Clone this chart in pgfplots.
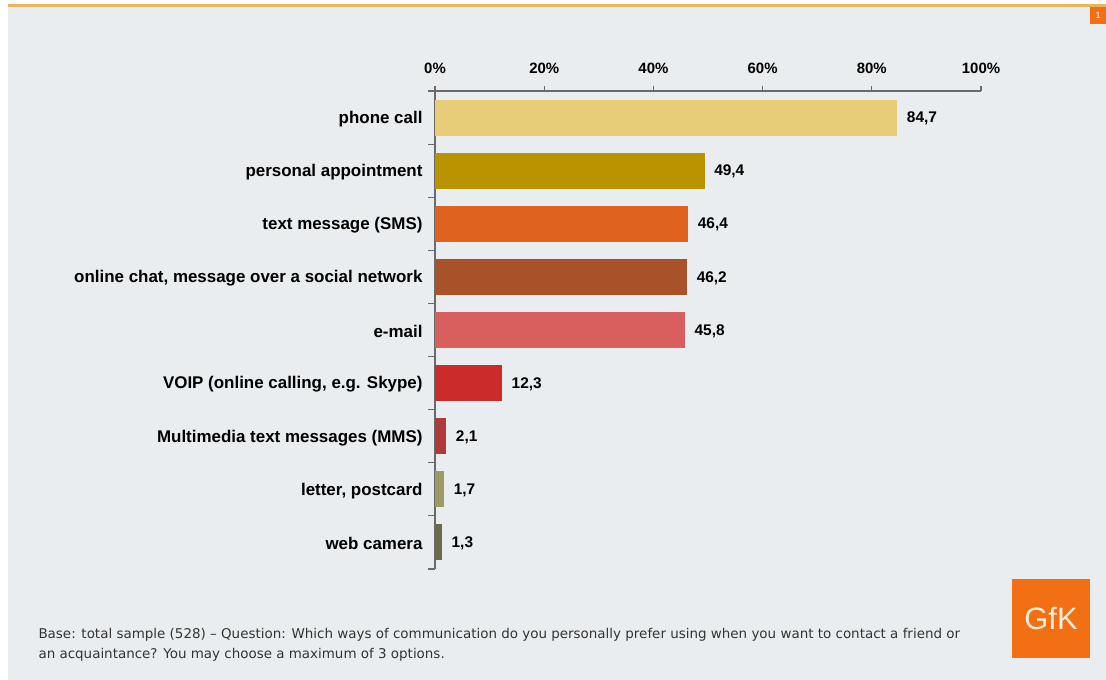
\documentclass[border=0pt]{standalone}
\usepackage{pgfplots}
\pgfplotsset{compat=1.18}
\usepackage{fontspec}
\setmainfont{Liberation Sans}
\newfontfamily\notefont{DejaVu Sans}
\definecolor{bg}{HTML}{E9EDEF}
\definecolor{topline}{HTML}{E8B45C}
\definecolor{gfk}{HTML}{F36F14}
\definecolor{axisgrey}{HTML}{6A6A6A}
\definecolor{cA}{HTML}{E8CD78}
\definecolor{cB}{HTML}{BA9400}
\definecolor{cC}{HTML}{E0621F}
\definecolor{cD}{HTML}{A9522A}
\definecolor{cE}{HTML}{D95F5F}
\definecolor{cF}{HTML}{CC2B2B}
\definecolor{cG}{HTML}{AE3A3A}
\definecolor{cH}{HTML}{9C9B62}
\definecolor{cI}{HTML}{6B6B4A}
\begin{document}
\begin{tikzpicture}[x=1bp,y=1bp]
\fill[white] (0,0) rectangle (1106,680);
\fill[bg] (8,0) rectangle (1106,673);
\fill[topline] (8,673) rectangle (1106,675.5);
\fill[gfk] (1090,656) rectangle (1106,673);
\node[text=white,font=\fontsize{9}{9}\selectfont] at (1098,664.5) {1};
\fill[gfk] (1012,22) rectangle (1090,101);
\node[text=white!85!orange,font=\fontsize{31}{31}\selectfont] at (1051,62) {GfK};
\node[anchor=base west,text=black!80,font=\notefont\fontsize{13.5}{13.5}\selectfont] at (35,41) {Base: total sample (528) – Question: Which ways of communication do you personally prefer using when you want to contact a friend or};
\node[anchor=base west,text=black!80,font=\notefont\fontsize{13.5}{13.5}\selectfont] at (35,21.5) {an acquaintance? You may choose a maximum of 3 options.};
\begin{axis}[
  at={(435bp,111bp)}, anchor=south west,
  scale only axis, width=546bp, height=478bp,
  xbar, bar shift=0pt, bar width=36bp,
  xmin=0, xmax=100, ymin=-0.5, ymax=8.5,
  axis x line*=top, axis y line*=left,
  axis line style={axisgrey, line width=1.4bp},
  tick align=outside,
  /pgf/number format/assume math mode=true,
  xtick={0,20,...,100},
  xticklabel={\pgfmathprintnumber{\tick}\%},
  xticklabel style={font=\bfseries\fontsize{15}{15}\selectfont, yshift=9bp},
  x tick style={axisgrey, line width=1.2bp},
  major tick length=5bp,
  ytick={0,...,8},
  yticklabels={web camera, {letter, postcard}, Multimedia text messages (MMS), {VOIP (online calling, e.g. Skype)}, e-mail, {online chat, message over a social network}, text message (SMS), personal appointment, phone call},
  yticklabel style={font=\bfseries\fontsize{17}{17}\selectfont, xshift=-4bp, yshift=-1.5bp},
  major y tick style={draw=none},
  minor ytick={-0.5,0.5,...,8.5},
  minor y tick style={axisgrey, line width=1.2bp},
  minor tick length=7bp,
  nodes near coords={\pgfmathprintnumber[fixed,precision=1,fixed zerofill,use comma]{\pgfplotspointmeta}},
  nodes near coords style={font=\bfseries\fontsize{15.5}{15.5}\selectfont, anchor=west, xshift=6bp, yshift=-1bp, text=black},
  clip=false,
]
\addplot[fill=cA, draw=none, bar shift=0pt] coordinates {(84.7,8)};
\addplot[fill=cB, draw=none, bar shift=0pt] coordinates {(49.4,7)};
\addplot[fill=cC, draw=none, bar shift=0pt] coordinates {(46.4,6)};
\addplot[fill=cD, draw=none, bar shift=0pt] coordinates {(46.2,5)};
\addplot[fill=cE, draw=none, bar shift=0pt] coordinates {(45.8,4)};
\addplot[fill=cF, draw=none, bar shift=0pt] coordinates {(12.3,3)};
\addplot[fill=cG, draw=none, bar shift=0pt] coordinates {(2.1,2)};
\addplot[fill=cH, draw=none, bar shift=0pt] coordinates {(1.7,1)};
\addplot[fill=cI, draw=none, bar shift=0pt] coordinates {(1.3,0)};
\end{axis}
\end{tikzpicture}
\end{document}
